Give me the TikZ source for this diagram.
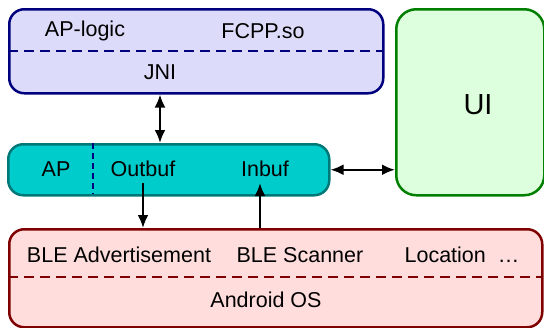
\documentclass[tikz,border=0pt]{standalone}
\usepackage{fontspec}
\setmainfont{Liberation Sans}
\usetikzlibrary{arrows.meta,calc}
\definecolor{topfill}{HTML}{DCDCFA}
\definecolor{topline}{HTML}{00007F}
\definecolor{apfill}{HTML}{00CCCC}
\definecolor{apline}{HTML}{007878}
\definecolor{uifill}{HTML}{DDFFDD}
\definecolor{uiline}{HTML}{007F00}
\definecolor{osfill}{HTML}{FFDDDD}
\definecolor{osline}{HTML}{7F0000}
\tikzset{
  box/.style={draw, line width=2.5pt, rounded corners=15pt, inner sep=0pt, anchor=north west},
  lbl/.style={font=\fontsize{21.5}{25}\selectfont, inner sep=0pt, anchor=center},
  arr/.style={line width=2.3pt, -{Latex[length=13pt,width=11pt]}},
  darr/.style={line width=2.3pt, {Latex[length=13pt,width=11pt]}-{Latex[length=13pt,width=11pt]}},
  sep/.style={line width=1.5pt, dash pattern=on 10pt off 6pt}
}
\begin{document}
\begin{tikzpicture}[x=1pt,y=-1pt]
\useasboundingbox (0,0) rectangle (544,327);
% boxes
\node[box, fill=topfill, draw=topline, minimum width=374pt, minimum height=84pt] (top) at (8,8) {};
\node[box, fill=apfill, draw=apline, minimum width=321pt, minimum height=51pt] (ap) at (7,143) {};
\node[box, fill=uifill, draw=uiline, rounded corners=20pt, minimum width=148pt, minimum height=186pt] (ui) at (395,8) {};
\node[box, fill=osfill, draw=osline, minimum width=533pt, minimum height=98pt] (os) at (8,228) {};
% separators
\coordinate (tsl) at (8,51); \coordinate (tsr) at (382,51);
\draw[sep, topline] (tsl) -- (tsr);
\coordinate (apt) at (93,143); \coordinate (apb) at (93,194);
\draw[sep, topline, dash pattern=on 6pt off 4pt] (apt) -- (apb);
\coordinate (osl) at (8,277); \coordinate (osr) at (541,277);
\draw[sep, osline] (osl) -- (osr);
% texts
\node[lbl] (aplogic) at (85,31) {AP-logic};
\node[lbl] (fcpp) at (263,31) {FCPP.so};
\node[lbl] (jni) at (160,72) {JNI};
\node[lbl] (aptxt) at (56,169) {AP};
\node[lbl] (outbuf) at (143,169) {Outbuf};
\node[lbl] (inbuf) at (265,169) {Inbuf};
\node[lbl, font=\fontsize{29}{34}\selectfont] (uitxt) at (478,105) {UI};
\node[lbl] (bleadv) at (119,255) {BLE Advertisement};
\node[lbl] (blescan) at (300,255) {BLE Scanner};
\node[lbl] (loc) at (462,255) {Location\ \ …};
\node[lbl] (android) at (266,300) {Android OS};
% connectors
\draw[darr] (top.south -| jni) -- (ap.north -| jni);
\draw[darr] (ap.east) -- (ap.east -| ui.west);
\coordinate (outs) at (143,183);
\draw[arr] (outs) -- (outs |- os.north);
\coordinate (ins) at (260,183);
\draw[arr] (ins |- os.north) -- (ins);
\end{tikzpicture}
\end{document}
